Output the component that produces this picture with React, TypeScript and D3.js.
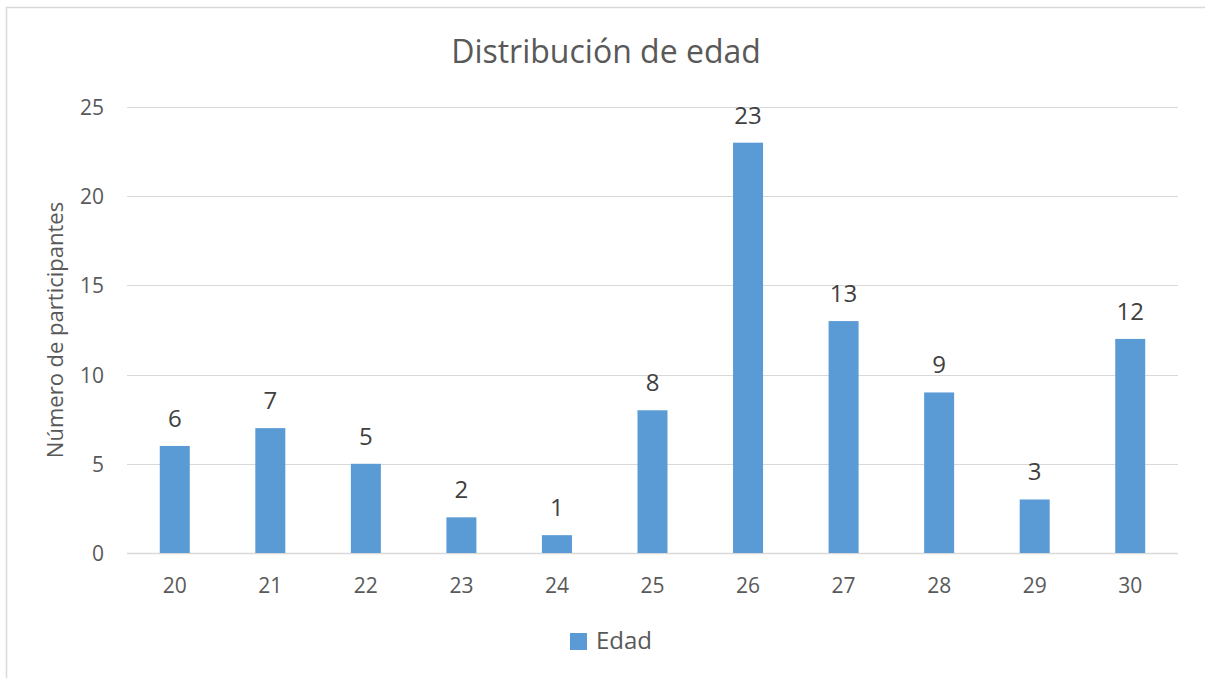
import { useEffect, useRef } from "react";
import * as d3 from "d3";

const ages = ["20", "21", "22", "23", "24", "25", "26", "27", "28", "29", "30"];
const counts = [6, 7, 5, 2, 1, 8, 23, 13, 9, 3, 12];
const yTicks = [0, 5, 10, 15, 20, 25];
const seriesName = "Edad";

const App = () => {
  const svgRef = useRef<SVGSVGElement>(null);

  useEffect(() => {
    const svg = d3.select(svgRef.current);
    svg.selectAll("*").remove(); // Clear existing

    const width = 1205;
    const height = 678;
    const font = "'Open Sans', sans-serif";
    const textColor = "#595959";
    const gridColor = "#d9d9d9";
    const barColor = "#5b9bd5";

    svg.attr("width", width).attr("height", height);

    // chart outline (only top + left visible in frame)
    svg
      .append("rect")
      .attr("x", 6.5)
      .attr("y", 7.5)
      .attr("width", 1220)
      .attr("height", 700)
      .attr("fill", "#fff")
      .attr("stroke", gridColor)
      .attr("stroke-width", 1.5);

    const xScale = d3.scaleBand().domain(ages).range([127, 1178]).padding(0);
    const yScale = d3.scaleLinear().domain([0, 25]).range([553, 107]);

    // Gridlines
    svg
      .append("g")
      .selectAll("line")
      .data(yTicks)
      .join("line")
      .attr("x1", 127)
      .attr("x2", 1178)
      .attr("y1", (d) => Math.round(yScale(d)) + 0.5)
      .attr("y2", (d) => Math.round(yScale(d)) + 0.5)
      .attr("stroke", gridColor)
      .attr("stroke-width", (d) => (d === 0 ? 1.5 : 1));

    // Y tick labels
    svg
      .append("g")
      .selectAll("text")
      .data(yTicks)
      .join("text")
      .attr("x", 104)
      .attr("y", (d) => yScale(d) + 8)
      .attr("text-anchor", "end")
      .style("font-family", font)
      .style("font-size", "21px")
      .style("fill", textColor)
      .text((d) => d);

    // X tick labels
    svg
      .append("g")
      .selectAll("text")
      .data(ages)
      .join("text")
      .attr("x", (d) => xScale(d)! + xScale.bandwidth() / 2)
      .attr("y", 593)
      .attr("text-anchor", "middle")
      .style("font-family", font)
      .style("font-size", "21px")
      .style("fill", textColor)
      .text((d) => d);

    // Bars
    const barW = xScale.bandwidth() * 0.314;
    svg
      .append("g")
      .selectAll("rect")
      .data(counts)
      .join("rect")
      .attr("x", (d, i) => xScale(ages[i])! + (xScale.bandwidth() - barW) / 2)
      .attr("y", (d) => yScale(d))
      .attr("width", barW)
      .attr("height", (d) => yScale(0) - yScale(d))
      .attr("fill", barColor);

    // Data labels
    svg
      .append("g")
      .selectAll("text")
      .data(counts)
      .join("text")
      .attr("x", (d, i) => xScale(ages[i])! + xScale.bandwidth() / 2)
      .attr("y", (d) => yScale(d) - 19)
      .attr("text-anchor", "middle")
      .style("font-family", font)
      .style("font-size", "24px")
      .style("fill", "#404040")
      .text((d) => d);

    // Title
    svg
      .append("text")
      .attr("x", 606)
      .attr("y", 63)
      .attr("text-anchor", "middle")
      .style("font-family", font)
      .style("font-size", "32px")
      .style("fill", textColor)
      .text("Distribución de edad");

    // Y axis title
    svg
      .append("text")
      .attr("transform", `translate(63, ${(yScale(0) + yScale(25)) / 2}) rotate(-90)`)
      .attr("text-anchor", "middle")
      .style("font-family", font)
      .style("font-size", "22px")
      .style("fill", textColor)
      .text("Número de participantes");

    // Legend
    svg
      .append("rect")
      .attr("x", 570)
      .attr("y", 633)
      .attr("width", 17)
      .attr("height", 17)
      .attr("fill", barColor);
    svg
      .append("text")
      .attr("x", 596)
      .attr("y", 649)
      .style("font-family", font)
      .style("font-size", "24px")
      .style("fill", textColor)
      .text(seriesName);
  }, []);

  return <svg ref={svgRef} style={{ position: "absolute", left: 0, top: 0 }} />;
};

export default App;
